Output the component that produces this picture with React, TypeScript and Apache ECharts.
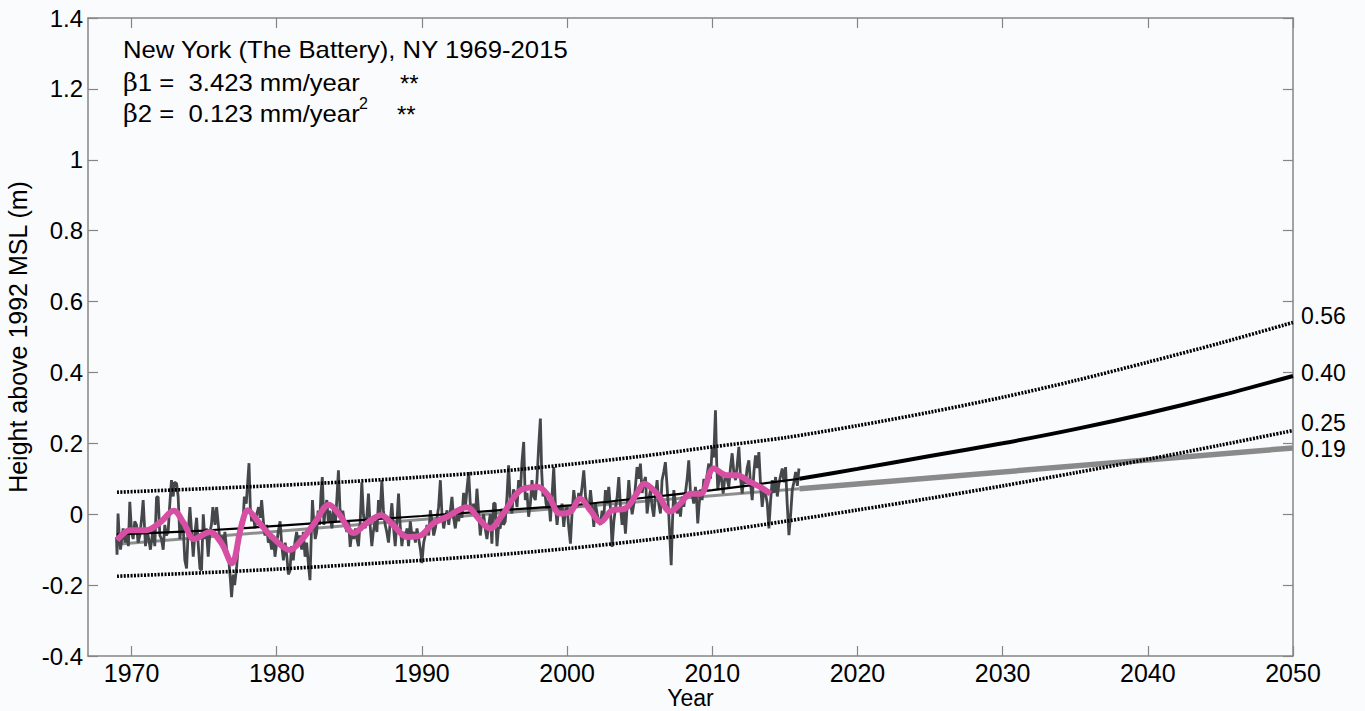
import React, { useEffect, useRef } from "react";
import * as echarts from "echarts";

const FONT = '"Liberation Sans", Arial, Helvetica, sans-serif';

const xTickValues = [1970, 1980, 1990, 2000, 2010, 2020, 2030, 2040, 2050];

// Monthly-scale tide gauge record: [decimal year, height m]
const observed: [number, number][] = [
  [1968.96, -0.064], [1969.0, -0.114], [1969.07, 0.002], [1969.15, -0.06], [1969.24, -0.1], [1969.42, -0.04], [1969.55, -0.08], [1969.65, -0.05], [1969.78, -0.09], [1969.88, 0.035],
  [1970.0, -0.05], [1970.11, -0.07], [1970.22, -0.02], [1970.34, -0.03], [1970.45, -0.08], [1970.57, -0.06], [1970.7, -0.01], [1970.8, 0.04], [1970.96, -0.09],
  [1971.05, -0.04], [1971.14, -0.06], [1971.3, -0.1], [1971.49, -0.04], [1971.6, -0.09], [1971.72, 0.048], [1971.83, 0.049], [1971.95, -0.06],
  [1972.06, -0.07], [1972.18, -0.1], [1972.29, -0.03], [1972.4, -0.06], [1972.52, -0.05], [1972.62, 0.02], [1972.75, 0.096], [1972.87, 0.05], [1972.95, 0.09],
  [1973.1, 0.087], [1973.21, 0.05], [1973.33, -0.07], [1973.45, -0.02], [1973.56, -0.04], [1973.67, -0.13], [1973.79, -0.153], [1973.9, -0.05],
  [1974.02, 0.02], [1974.12, -0.04], [1974.25, -0.12], [1974.35, -0.06], [1974.48, -0.01], [1974.6, -0.09], [1974.71, -0.153], [1974.82, -0.158], [1974.94, 0.0],
  [1975.05, -0.07], [1975.15, -0.04], [1975.28, -0.12], [1975.4, -0.05], [1975.5, -0.03], [1975.6, 0.02], [1975.75, -0.03], [1975.86, 0.02],
  [1976.0, -0.04], [1976.1, -0.08], [1976.2, -0.06], [1976.32, -0.09], [1976.43, -0.05], [1976.55, -0.1], [1976.68, -0.12], [1976.8, -0.18], [1976.89, -0.234],
  [1977.0, -0.17], [1977.1, -0.2], [1977.24, -0.148], [1977.35, -0.09], [1977.45, -0.06], [1977.55, -0.02], [1977.65, -0.04], [1977.77, 0.05], [1977.9, 0.03],
  [1978.0, 0.09], [1978.09, 0.144], [1978.18, 0.02], [1978.27, -0.02], [1978.38, 0.0], [1978.5, -0.04], [1978.62, 0.0], [1978.75, 0.02], [1978.86, -0.01], [1978.96, 0.04],
  [1979.08, -0.02], [1979.19, -0.06], [1979.3, -0.03], [1979.42, -0.08], [1979.54, -0.07], [1979.65, -0.1], [1979.77, -0.06], [1979.88, -0.12],
  [1980.0, -0.08], [1980.1, -0.05], [1980.23, -0.02], [1980.35, -0.09], [1980.46, -0.13], [1980.58, -0.08], [1980.7, -0.12], [1980.8, -0.17], [1980.91, -0.16],
  [1981.02, -0.09], [1981.14, -0.13], [1981.25, -0.08], [1981.37, -0.05], [1981.5, -0.09], [1981.6, -0.06], [1981.72, -0.1], [1981.83, -0.05], [1981.95, -0.12],
  [1982.06, -0.08], [1982.18, -0.14], [1982.29, -0.186], [1982.38, -0.06], [1982.46, 0.04], [1982.55, -0.02], [1982.65, -0.07], [1982.75, -0.05], [1982.85, 0.01], [1982.95, -0.03],
  [1983.05, 0.06], [1983.14, 0.105], [1983.25, -0.03], [1983.35, 0.02], [1983.45, 0.04], [1983.55, -0.02], [1983.65, 0.01], [1983.8, -0.04], [1983.92, 0.02],
  [1984.05, -0.02], [1984.15, 0.05], [1984.25, 0.124], [1984.35, 0.02], [1984.45, -0.02], [1984.55, 0.01], [1984.7, -0.03], [1984.83, -0.05], [1984.95, -0.02],
  [1985.06, -0.092], [1985.18, -0.05], [1985.3, -0.07], [1985.42, -0.04], [1985.52, -0.07], [1985.63, -0.09], [1985.75, -0.02], [1985.86, 0.09], [1985.97, 0.0],
  [1986.09, -0.04], [1986.2, -0.01], [1986.32, 0.058], [1986.43, -0.03], [1986.55, -0.09], [1986.65, -0.05], [1986.78, -0.02], [1986.9, -0.05],
  [1987.01, 0.04], [1987.12, 0.0], [1987.24, 0.096], [1987.35, 0.01], [1987.47, -0.03], [1987.58, -0.05], [1987.7, -0.08], [1987.82, -0.02], [1987.93, 0.031],
  [1988.05, -0.04], [1988.16, -0.09], [1988.28, -0.02], [1988.39, 0.058], [1988.5, -0.03], [1988.62, -0.09], [1988.73, -0.05], [1988.85, -0.07], [1988.97, -0.04],
  [1989.08, -0.09], [1989.2, -0.02], [1989.31, -0.06], [1989.43, -0.05], [1989.55, -0.08], [1989.66, -0.04], [1989.78, -0.07], [1989.9, -0.1],
  [1990.0, -0.138], [1990.12, -0.08], [1990.23, -0.06], [1990.35, -0.03], [1990.47, -0.06], [1990.58, 0.011], [1990.7, -0.02], [1990.81, -0.06], [1990.92, -0.04],
  [1991.04, -0.01], [1991.15, 0.02], [1991.27, 0.096], [1991.38, 0.0], [1991.5, -0.04], [1991.62, -0.01], [1991.73, 0.011], [1991.85, -0.03], [1991.96, 0.01],
  [1992.07, 0.049], [1992.18, -0.01], [1992.3, -0.04], [1992.42, 0.0], [1992.53, -0.02], [1992.64, 0.02], [1992.76, -0.01], [1992.87, 0.06],
  [1993.0, 0.02], [1993.1, 0.07], [1993.22, 0.119], [1993.33, 0.03], [1993.45, 0.0], [1993.56, 0.03], [1993.68, -0.01], [1993.79, 0.072], [1993.9, 0.01],
  [1994.02, -0.06], [1994.13, -0.02], [1994.25, 0.0], [1994.36, -0.04], [1994.48, -0.07], [1994.6, -0.03], [1994.71, 0.0], [1994.82, -0.083], [1994.94, 0.031],
  [1995.05, 0.03], [1995.17, -0.09], [1995.28, -0.036], [1995.4, -0.04], [1995.51, 0.016], [1995.62, -0.03], [1995.74, -0.02], [1995.86, 0.05], [1995.97, 0.138],
  [1996.08, 0.04], [1996.2, 0.002], [1996.31, 0.07], [1996.43, 0.058], [1996.55, 0.02], [1996.66, 0.096], [1996.78, 0.06], [1996.89, 0.147],
  [1997.01, 0.204], [1997.12, 0.04], [1997.24, 0.06], [1997.35, -0.007], [1997.47, 0.03], [1997.58, 0.096], [1997.7, 0.05], [1997.81, 0.04], [1997.93, 0.1],
  [1998.04, 0.19], [1998.16, 0.27], [1998.25, 0.12], [1998.34, 0.05], [1998.45, 0.07], [1998.55, 0.03], [1998.62, 0.016], [1998.74, 0.04], [1998.85, -0.02], [1998.96, 0.05],
  [1999.08, 0.133], [1999.2, 0.02], [1999.31, -0.03], [1999.42, 0.02], [1999.54, 0.0], [1999.65, 0.03], [1999.77, -0.036], [1999.88, 0.01],
  [2000.0, 0.02], [2000.12, -0.04], [2000.23, -0.083], [2000.35, 0.01], [2000.46, 0.068], [2000.57, 0.03], [2000.69, 0.02], [2000.8, 0.06], [2000.92, 0.04],
  [2001.04, 0.08], [2001.15, 0.124], [2001.27, 0.05], [2001.38, 0.03], [2001.5, 0.01], [2001.61, 0.068], [2001.73, 0.02], [2001.84, -0.036], [2001.95, 0.03],
  [2002.07, 0.002], [2002.18, -0.02], [2002.3, -0.03], [2002.41, 0.01], [2002.53, -0.01], [2002.64, 0.068], [2002.76, 0.03], [2002.87, 0.077], [2002.98, 0.02],
  [2003.1, -0.092], [2003.22, -0.02], [2003.33, 0.016], [2003.45, 0.05], [2003.56, 0.105], [2003.68, 0.02], [2003.79, -0.03], [2003.9, 0.01],
  [2004.02, -0.055], [2004.13, 0.02], [2004.25, 0.096], [2004.36, 0.04], [2004.48, 0.0], [2004.6, 0.03], [2004.71, 0.08], [2004.82, 0.133], [2004.94, 0.1],
  [2005.05, 0.143], [2005.17, 0.06], [2005.28, 0.09], [2005.4, 0.105], [2005.51, 0.002], [2005.62, 0.04], [2005.74, 0.068], [2005.86, 0.02], [2005.97, -0.007],
  [2006.08, 0.05], [2006.2, 0.096], [2006.31, 0.03], [2006.43, 0.002], [2006.54, 0.096], [2006.66, 0.12], [2006.77, 0.147], [2006.89, 0.077],
  [2007.0, 0.002], [2007.12, -0.1], [2007.17, -0.144], [2007.26, -0.02], [2007.35, 0.068], [2007.47, 0.03], [2007.58, 0.002], [2007.7, 0.03], [2007.81, -0.007], [2007.93, 0.05],
  [2008.04, 0.021], [2008.15, 0.06], [2008.27, 0.1], [2008.38, 0.152], [2008.5, 0.06], [2008.61, 0.058], [2008.72, 0.03], [2008.84, 0.077], [2008.92, 0.04],
  [2009.0, -0.026], [2009.1, 0.03], [2009.2, 0.07], [2009.3, 0.04], [2009.42, 0.1], [2009.53, 0.077], [2009.64, 0.11], [2009.76, 0.143], [2009.88, 0.1], [2009.99, 0.19],
  [2010.1, 0.16], [2010.22, 0.293], [2010.3, 0.15], [2010.38, 0.068], [2010.47, 0.1], [2010.57, 0.124], [2010.66, 0.09], [2010.75, 0.058], [2010.83, 0.09], [2010.91, 0.115],
  [2011.02, 0.1], [2011.14, 0.077], [2011.25, 0.13], [2011.37, 0.172], [2011.48, 0.12], [2011.6, 0.096], [2011.72, 0.14], [2011.83, 0.19], [2011.95, 0.1],
  [2012.06, 0.058], [2012.18, 0.11], [2012.29, 0.086], [2012.4, 0.13], [2012.52, 0.152], [2012.63, 0.09], [2012.75, 0.04], [2012.87, 0.12], [2012.98, 0.166],
  [2013.1, 0.13], [2013.21, 0.175], [2013.33, 0.08], [2013.44, 0.021], [2013.56, 0.07], [2013.67, 0.058], [2013.79, 0.03], [2013.9, -0.04],
  [2014.02, 0.04], [2014.13, 0.096], [2014.25, 0.06], [2014.36, 0.105], [2014.48, 0.05], [2014.59, 0.086], [2014.71, 0.11], [2014.82, 0.129], [2014.94, 0.09],
  [2015.05, 0.133], [2015.16, 0.03], [2015.28, -0.059], [2015.4, 0.0], [2015.51, 0.068], [2015.62, 0.09], [2015.74, 0.119], [2015.86, 0.08], [2015.97, 0.129],
];

// Low-pass (smoothed) record, pink
const smoothed: [number, number][] = [
  [1969.0, -0.073], [1969.9, -0.045], [1971.0, -0.045], [1972.0, -0.022], [1972.9, 0.01], [1973.6, -0.025], [1974.3, -0.07],
  [1975.4, -0.05], [1976.2, -0.082], [1976.9, -0.138], [1977.55, -0.036], [1978.0, 0.011], [1978.8, -0.025], [1979.9, -0.073],
  [1980.9, -0.101], [1981.7, -0.073], [1982.6, -0.025], [1983.6, 0.027], [1984.3, 0.0], [1985.3, -0.053], [1986.2, -0.025],
  [1987.2, -0.003], [1988.0, -0.03], [1989.0, -0.064], [1989.9, -0.06], [1990.8, -0.025], [1991.7, -0.008], [1993.1, 0.02],
  [1994.0, -0.017], [1994.7, -0.04], [1995.6, 0.002], [1996.8, 0.068], [1998.0, 0.077], [1998.7, 0.053], [1999.5, 0.002],
  [2000.2, 0.006], [2000.9, 0.044], [2001.6, 0.011], [2002.3, -0.022], [2003.1, 0.011], [2004.0, 0.016], [2004.8, 0.058],
  [2005.3, 0.086], [2006.2, 0.058], [2007.1, 0.008], [2007.8, 0.03], [2008.5, 0.058], [2009.2, 0.058], [2010.1, 0.129],
  [2011.0, 0.11], [2011.7, 0.11], [2012.6, 0.091], [2013.3, 0.077], [2014.0, 0.058],
];

// Quadratic fit (black)
const quadPastYears = [1969, 1975, 1980, 1985, 1990, 1995, 2000, 2005, 2010, 2016];
const quadPastValues = [-0.057, -0.046, -0.033, -0.019, -0.005, 0.01, 0.024, 0.045, 0.068, 0.1];
const quadFutureYears = [2016, 2020, 2025, 2030, 2035, 2040, 2045, 2050];
const quadFutureValues = [0.1, 0.128, 0.164, 0.2, 0.24, 0.285, 0.335, 0.39];

// Linear fit (grey)
const linPastYears = [1969, 2016];
const linPastValues = [-0.085, 0.072];
const linFutureYears = [2016, 2050];
const linFutureValues = [0.072, 0.187];

// Confidence bounds (dotted)
const boundYears = [1969, 1975, 1980, 1985, 1990, 1995, 2000, 2005, 2010, 2015, 2020, 2025, 2030, 2035, 2040, 2045, 2050];
const upperValues = [0.062, 0.072, 0.081, 0.092, 0.105, 0.12, 0.14, 0.163, 0.19, 0.216, 0.25, 0.288, 0.33, 0.377, 0.429, 0.483, 0.541];
const lowerValues = [-0.175, -0.165, -0.155, -0.143, -0.13, -0.115, -0.097, -0.075, -0.05, -0.02, 0.012, 0.045, 0.08, 0.117, 0.155, 0.195, 0.236];

// 2050 projection labels
const endLabels = { upper: "0.56", quad: "0.40", lower: "0.25", linear: "0.19" };

const zip = (xs: number[], ys: number[]) => xs.map((x, i) => [x, ys[i]]);

export default function App() {
  const ref = useRef<HTMLDivElement>(null);

  useEffect(() => {
    if (!ref.current) return;
    const chart = echarts.init(ref.current, undefined, { renderer: "svg" });
    const axisColor = "#868686";
    const labelStyle = (text: string, dy: number) => ({
      show: true,
      formatter: text,
      fontFamily: FONT,
      fontSize: 23,
      lineHeight: 20,
      color: "#000",
      distance: 8,
      offset: [0, dy],
    });
    const serif = '"DejaVu Serif", "Liberation Serif", serif';

    chart.setOption({
      animation: false,
      backgroundColor: "transparent",
      textStyle: { fontFamily: FONT },
      grid: { left: 88, right: 72, top: 18, bottom: 55, outerBoundsMode: "none" },
      xAxis: [
        {
          type: "value",
          min: 1967,
          max: 2050,
          position: "bottom",
          name: "Year",
          nameLocation: "middle",
          nameGap: 31,
          nameMoveOverlap: false,
          nameTextStyle: { fontFamily: FONT, fontSize: 23, color: "#000", lineHeight: 21 },
          axisLine: { show: true, onZero: false, lineStyle: { color: axisColor, width: 1.5 } },
          axisTick: { show: true, inside: true, length: 10, customValues: xTickValues, lineStyle: { color: axisColor, width: 1.2 } },
          axisLabel: {
            show: true,
            customValues: xTickValues,
            formatter: (v: number) => String(v),
            fontFamily: FONT,
            fontSize: 25,
            lineHeight: 24,
            color: "#000",
            margin: 5,
          },
          splitLine: { show: false },
        },
        {
          type: "value",
          min: 1967,
          max: 2050,
          position: "top",
          axisLine: { show: true, onZero: false, lineStyle: { color: axisColor, width: 1.5 } },
          axisTick: { show: true, inside: true, length: 10, customValues: xTickValues, lineStyle: { color: axisColor, width: 1.2 } },
          axisLabel: { show: false },
          splitLine: { show: false },
        },
      ],
      yAxis: [
        {
          type: "value",
          min: -0.4,
          max: 1.4,
          interval: 0.2,
          position: "left",
          name: "Height above 1992 MSL (m)",
          nameLocation: "middle",
          nameGap: 52,
          nameTextStyle: { fontFamily: FONT, fontSize: 25, color: "#000" },
          axisLine: { show: true, onZero: false, lineStyle: { color: axisColor, width: 1.5 } },
          axisTick: { show: true, inside: true, length: 10, lineStyle: { color: axisColor, width: 1.2 } },
          axisLabel: { fontFamily: FONT, fontSize: 24, color: "#000", margin: 5 },
          splitLine: { show: false },
        },
        {
          type: "value",
          min: -0.4,
          max: 1.4,
          interval: 0.2,
          position: "right",
          axisLine: { show: true, onZero: false, lineStyle: { color: axisColor, width: 1.5 } },
          axisTick: { show: true, inside: true, length: 10, lineStyle: { color: axisColor, width: 1.2 } },
          axisLabel: { show: false },
          splitLine: { show: false },
        },
      ],
      series: [
        {
          name: "linear-past",
          type: "line",
          data: zip(linPastYears, linPastValues),
          symbol: "none",
          lineStyle: { color: "#8e8e8e", width: 3 },
          z: 1,
        },
        {
          name: "observed",
          type: "line",
          data: observed,
          symbol: "none",
          lineStyle: { color: "#45484a", width: 2.8 },
          z: 2,
        },
        {
          name: "quad-past",
          type: "line",
          data: zip(quadPastYears, quadPastValues),
          symbol: "none",
          smooth: 0.3,
          lineStyle: { color: "#000", width: 2.2 },
          z: 3,
        },
        {
          name: "linear-future",
          type: "line",
          data: zip(linFutureYears, linFutureValues),
          symbol: "none",
          lineStyle: { color: "#8a8a8a", width: 5.5 },
          endLabel: labelStyle(endLabels.linear, 1),
          z: 3,
        },
        {
          name: "quad-future",
          type: "line",
          data: zip(quadFutureYears, quadFutureValues),
          symbol: "none",
          smooth: 0.3,
          lineStyle: { color: "#000", width: 4 },
          endLabel: labelStyle(endLabels.quad, -3),
          z: 4,
        },
        {
          name: "upper",
          type: "line",
          data: zip(boundYears, upperValues),
          symbol: "none",
          smooth: 0.3,
          lineStyle: { color: "#000", width: 3.6, type: [2, 1.4] },
          endLabel: labelStyle(endLabels.upper, -6),
          z: 4,
        },
        {
          name: "lower",
          type: "line",
          data: zip(boundYears, lowerValues),
          symbol: "none",
          smooth: 0.3,
          lineStyle: { color: "#000", width: 3.6, type: [2, 1.4] },
          endLabel: labelStyle(endLabels.lower, -8),
          z: 4,
        },
        {
          name: "smoothed",
          type: "line",
          data: smoothed,
          symbol: "none",
          smooth: 0.35,
          lineStyle: { color: "#d64fa2", width: 6 },
          z: 5,
        },
      ],
      graphic: [
        {
          type: "text",
          x: 123,
          y: 50,
          scaleX: 1.07,
          style: { text: "New York (The Battery), NY 1969-2015", fontFamily: FONT, fontSize: 24, fill: "#000", verticalAlign: "middle" },
        },
        {
          type: "text",
          x: 123,
          y: 83,
          scaleX: 1.07,
          style: {
            text: "{b|β}1 =  3.423 mm/year",
            fontFamily: FONT,
            fontSize: 24,
            fill: "#000",
            verticalAlign: "middle",
            rich: { b: { fontFamily: serif, fontSize: 24, fill: "#000" } },
          },
        },
        {
          type: "text",
          x: 400,
          y: 83,
          style: { text: "**", fontFamily: FONT, fontSize: 24, fill: "#000", verticalAlign: "middle" },
        },
        {
          type: "text",
          x: 123,
          y: 114,
          scaleX: 1.07,
          style: {
            text: "{b|β}2 =  0.123 mm/year",
            fontFamily: FONT,
            fontSize: 24,
            fill: "#000",
            verticalAlign: "middle",
            rich: { b: { fontFamily: serif, fontSize: 24, fill: "#000" } },
          },
        },
        {
          type: "text",
          x: 359,
          y: 103,
          style: { text: "2", fontFamily: FONT, fontSize: 16, fill: "#000", verticalAlign: "middle" },
        },
        {
          type: "text",
          x: 397,
          y: 114,
          style: { text: "**", fontFamily: FONT, fontSize: 24, fill: "#000", verticalAlign: "middle" },
        },
      ],
    });

    return () => chart.dispose();
  }, []);

  return (
    <div style={{ position: "fixed", left: 0, top: 0, width: "1365px", height: "711px", background: "#fafbfd" }}>
      <div ref={ref} style={{ width: "1365px", height: "711px" }} />
    </div>
  );
}
